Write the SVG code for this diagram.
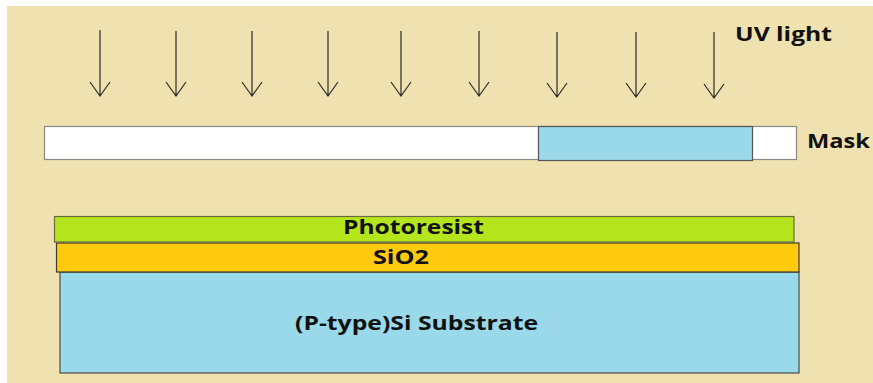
<svg xmlns="http://www.w3.org/2000/svg" width="873" height="383" viewBox="0 0 873 383">
<defs>
<style>
.lbl{font-family:"Open Sans","Noto Sans","Liberation Sans",sans-serif;font-weight:bold;fill:#111}
.arr{stroke:#2a2a2a;stroke-width:1.2;fill:none}
.edge{stroke:#6b6b5a;stroke-width:1.2}
</style>
</defs>
<rect x="0" y="0" width="873" height="383" fill="#ffffff"/>
<rect x="7" y="6" width="866" height="377" fill="#EFE2B0"/>
<g id="connectors">
<path class="arr" d="M100 30V96M90 82L100 96L110 82"/>
<path class="arr" d="M176 31V96M166 82L176 96L186 82"/>
<path class="arr" d="M252 31V96M242 82L252 96L262 82"/>
<path class="arr" d="M328 31V96M318 82L328 96L338 82"/>
<path class="arr" d="M401 31V96M391 82L401 96L411 82"/>
<path class="arr" d="M479 31V96M469 82L479 96L489 82"/>
<path class="arr" d="M557 32V97M547 83L557 97L567 83"/>
<path class="arr" d="M636 32V97M626 83L636 97L646 83"/>
<path class="arr" d="M714 32V98M704 84L714 98L724 84"/>
</g>
<g id="uv-label"><text class="lbl" x="735" y="41" font-size="19" textLength="97" lengthAdjust="spacingAndGlyphs">UV light</text></g>
<g id="mask">
<rect x="44.5" y="126.5" width="752" height="33" fill="#ffffff" stroke="#8a8a80" stroke-width="1.2"/>
<rect x="538.5" y="126.5" width="214" height="34" fill="#99D9EA" stroke="#555" stroke-width="1.2"/>
<text class="lbl" x="807" y="148" font-size="19" textLength="63" lengthAdjust="spacingAndGlyphs">Mask</text>
</g>
<g id="substrate">
<rect x="60" y="272" width="739" height="101" fill="#99D9EA" stroke="#4a4a44" stroke-width="1.2"/>
<text class="lbl" x="295" y="330" font-size="19" textLength="243" lengthAdjust="spacingAndGlyphs">(P-type)Si Substrate</text>
</g>
<g id="sio2">
<rect x="56.5" y="243" width="742.5" height="29" fill="#FFC90E" stroke="#3a3a30" stroke-width="1.2"/>
<text class="lbl" x="373" y="264" font-size="19" textLength="56" lengthAdjust="spacingAndGlyphs">SiO2</text>
</g>
<g id="photoresist">
<rect x="54.5" y="216.5" width="739.5" height="25.5" fill="#B5E61D" stroke="#6a6a40" stroke-width="1.2"/>
<text class="lbl" x="343" y="234" font-size="19" textLength="141" lengthAdjust="spacingAndGlyphs">Photoresist</text>
</g>
</svg>
